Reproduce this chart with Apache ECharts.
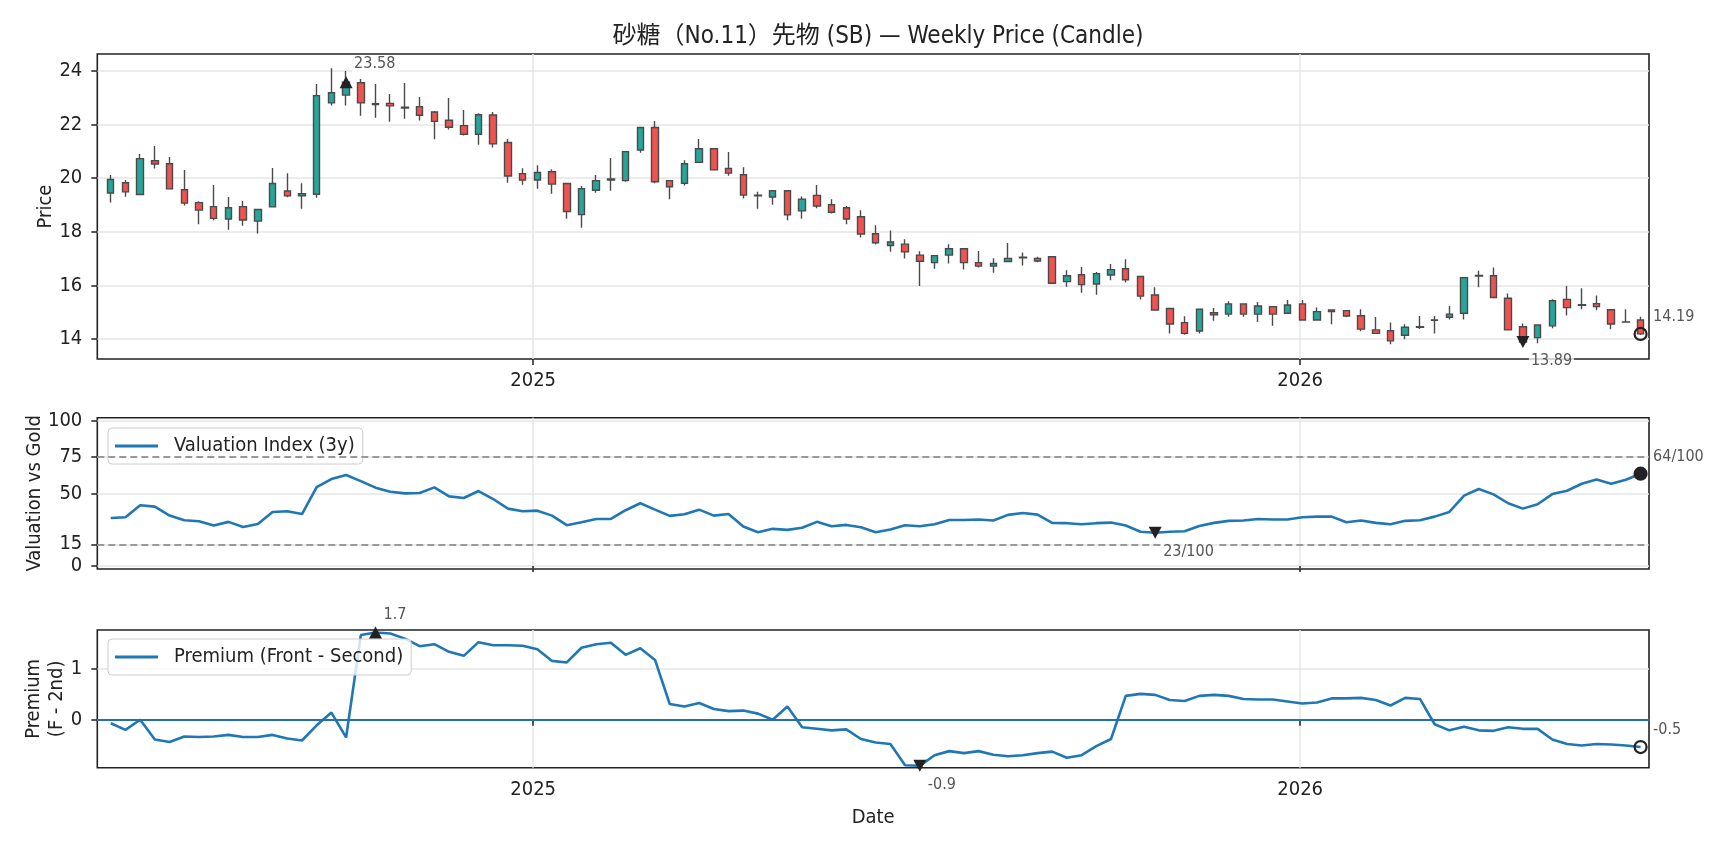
<!DOCTYPE html>
<html>
<head>
<meta charset="utf-8">
<script src="https://cdn.jsdelivr.net/npm/echarts@6/dist/echarts.min.js"></script>
<style>
  html, body { margin: 0; padding: 0; background: #fff; }
  #chart { width: 1728px; height: 849px; }
</style>
</head>
<body>
<div id="chart"></div>
<script>
// weekly candles, first bar on 2024-06-14
const firstWeek = '2024-06-14';
const opens = [19.45,19.83,19.39,20.65,20.54,19.57,19.09,18.94,18.48,18.94,18.40,18.93,19.52,19.34,19.40,22.81,23.10,23.56,22.78,22.79,
  22.65,22.67,22.47,22.16,21.96,21.64,22.36,21.33,20.17,19.93,20.24,19.80,18.64,19.55,19.93,19.91,21.05,21.89,19.91,19.81,
  20.59,21.10,20.36,20.13,19.37,19.30,19.53,18.78,19.36,19.01,18.90,18.56,17.93,17.49,17.54,17.13,16.85,17.13,17.37,16.85,
  16.72,16.89,17.05,17.01,17.07,16.14,16.40,16.05,16.39,16.62,16.33,15.64,15.14,14.61,14.30,14.98,14.93,15.31,14.93,15.21,
  14.96,15.31,14.71,15.08,15.06,14.87,14.34,14.31,14.14,14.44,14.70,14.81,14.96,16.35,16.36,15.52,14.46,14.05,14.49,15.48,
  15.28,15.32,15.09,14.64,14.71];
const closes = [19.95,19.49,20.73,20.53,19.60,19.07,18.81,18.50,18.90,18.44,18.83,19.80,19.34,19.42,23.08,23.19,23.58,22.81,22.75,22.70,
  22.62,22.35,22.12,21.90,21.64,22.37,21.28,20.08,19.93,20.21,19.78,18.76,19.61,19.91,19.97,20.99,21.89,19.87,19.68,20.54,
  21.10,20.31,20.19,19.37,19.34,19.53,18.63,19.22,18.96,18.73,18.48,17.92,17.59,17.62,17.25,16.90,17.11,17.37,16.85,16.72,
  16.82,17.01,17.03,16.91,16.08,16.36,16.03,16.44,16.59,16.21,15.60,15.08,14.56,14.21,15.11,14.90,15.31,14.93,15.23,14.93,
  15.27,14.71,15.02,15.02,14.86,14.37,14.21,13.93,14.44,14.46,14.71,14.93,16.29,16.37,15.55,14.34,13.89,14.52,15.43,15.17,
  15.26,15.21,14.56,14.63,14.19];
const lows = [19.09,19.31,19.36,20.36,19.58,18.98,18.28,18.43,18.08,18.23,17.94,18.91,19.29,18.86,19.27,22.71,22.71,22.33,22.26,22.11,
  22.22,22.15,21.45,21.82,21.59,21.25,21.15,19.83,19.76,19.61,19.42,18.49,18.15,19.46,19.53,19.87,20.95,19.81,19.21,19.73,
  20.57,20.30,20.09,19.24,18.86,19.01,18.43,18.49,18.88,18.68,18.28,17.79,17.53,17.26,17.00,15.98,16.62,16.82,16.59,16.67,
  16.47,16.88,16.74,16.86,16.07,15.95,15.73,15.65,16.19,16.11,15.47,15.07,14.21,14.16,14.21,14.68,14.83,14.83,14.63,14.49,
  14.95,14.70,14.70,14.55,14.81,14.29,14.20,13.80,13.99,14.37,14.21,14.73,14.73,15.93,15.52,14.33,13.88,13.84,14.40,14.88,
  15.11,15.07,14.36,14.61,14.15];
const highs = [20.12,19.93,20.90,21.20,20.79,20.31,19.14,19.75,19.30,19.15,18.84,20.38,20.18,19.81,23.51,24.10,24.00,23.70,23.51,23.14,
  23.55,23.03,22.51,22.99,22.54,22.42,22.47,21.46,20.37,20.48,20.33,19.81,19.71,20.12,20.75,21.00,21.90,22.13,19.92,20.67,
  21.46,21.11,20.98,20.41,19.49,19.54,19.54,19.32,19.75,19.21,18.96,18.80,18.24,18.05,17.72,17.27,17.12,17.54,17.38,17.28,
  17.01,17.58,17.23,17.07,17.08,16.57,16.69,16.50,16.80,16.98,16.34,15.93,15.15,14.85,15.13,15.16,15.41,15.32,15.38,15.22,
  15.46,15.46,15.18,15.09,15.07,15.11,14.82,14.62,14.55,14.86,14.86,15.23,16.30,16.55,16.67,15.70,14.58,14.53,15.48,15.98,
  15.89,15.62,15.10,15.11,14.83];
const valuation = [33.1,33.6,41.8,40.9,34.7,31.5,30.8,27.9,30.4,26.9,29.0,37.2,37.7,35.8,54.3,59.8,62.6,58.4,53.9,51.1,
  50.0,50.2,54.1,47.9,46.8,51.6,46.1,39.5,37.7,38.1,34.7,28.1,30.1,32.4,32.4,38.4,43.2,38.8,34.5,35.6,
  38.8,34.7,35.8,27.2,23.3,25.6,24.9,26.3,30.4,27.4,28.3,26.7,23.3,25.1,28.1,27.4,28.8,31.7,31.7,32.0,
  31.3,35.2,36.5,35.4,29.7,29.5,28.8,29.5,29.9,27.9,23.6,22.9,23.6,24.0,27.6,29.7,31.1,31.3,32.4,32.0,
  32.0,33.6,34.0,34.0,30.1,31.3,29.7,28.8,31.1,31.5,34.0,37.2,48.4,53.0,49.3,43.2,39.5,42.5,49.5,51.8,
  56.6,59.6,56.6,59.4,63.5];
const premium = [-0.07,-0.20,0.00,-0.39,-0.44,-0.33,-0.34,-0.33,-0.30,-0.34,-0.34,-0.30,-0.37,-0.41,-0.11,0.14,-0.35,1.67,1.72,1.70,
  1.60,1.45,1.49,1.34,1.26,1.53,1.47,1.47,1.46,1.39,1.16,1.13,1.42,1.49,1.52,1.28,1.41,1.18,0.31,0.26,
  0.33,0.21,0.17,0.18,0.12,0.00,0.26,-0.15,-0.18,-0.21,-0.19,-0.38,-0.45,-0.48,-0.90,-0.91,-0.70,-0.62,-0.66,-0.62,
  -0.69,-0.72,-0.70,-0.66,-0.63,-0.75,-0.70,-0.52,-0.38,0.47,0.51,0.49,0.39,0.37,0.47,0.49,0.47,0.41,0.40,0.40,
  0.36,0.32,0.34,0.42,0.42,0.43,0.39,0.28,0.43,0.41,-0.09,-0.21,-0.14,-0.21,-0.22,-0.15,-0.18,-0.18,-0.39,-0.48,
  -0.51,-0.48,-0.49,-0.51,-0.54];
const yearTicks = ['2025-01-01', '2026-01-01'];
const priceTicks = [14, 16, 18, 20, 22, 24];
const valuationTicks = [0, 15, 50, 75, 100];
const valuationBands = [75, 15];
const premiumTicks = [0, 1];

const FONT = "'Liberation Sans Narrow', 'DejaVu Sans Condensed', 'Noto Sans CJK JP', sans-serif";
const DAY = 86400000;
const t0 = Date.parse(firstWeek);
const dates = opens.map((_, i) => t0 + i * 7 * DAY);
const yearTs = yearTicks.map(d => Date.parse(d));
const last = dates.length - 1;
const xMin = dates[0] - 6.4 * DAY;
const xMax = dates[last] + 4.0 * DAY;

const argMax = a => a.indexOf(Math.max(...a));
const argMin = a => a.indexOf(Math.min(...a));

const DOWN = 'path://M0,0 L10,0 L5,10 Z';

function lab(text, offset) {
  return {
    show: true, formatter: text, position: 'inside', align: 'left', verticalAlign: 'middle',
    offset: offset, color: '#555', fontSize: 16, fontFamily: FONT,
    backgroundColor: 'rgba(255,255,255,0.75)', padding: [1, 2]
  };
}
function upMark(x, y, text) {
  return { coord: [x, y], symbol: 'triangle', symbolSize: [13, 12], itemStyle: { color: '#222' }, label: lab(text, [6, -18]) };
}
function downMark(x, y, text) {
  return { coord: [x, y], symbol: DOWN, symbolSize: [13, 12], itemStyle: { color: '#222' }, label: lab(text, [6, 19]) };
}
function lastMark(x, y, text, filled) {
  return {
    coord: [x, y], symbol: 'circle', symbolSize: 12,
    itemStyle: { color: filled ? '#222' : 'rgba(0,0,0,0)', borderColor: '#222', borderWidth: 2.2 },
    label: lab(text, [10.5, -17])
  };
}

function xAxis(gi, showLabels, name) {
  return {
    type: 'value', gridIndex: gi, min: xMin, max: xMax,
    axisLine: { show: false },
    axisTick: { show: true, customValues: yearTs, length: 6, lineStyle: { color: '#222', width: 1.5 } },
    axisLabel: {
      show: showLabels, customValues: yearTs, margin: 12, fontSize: 20, fontFamily: FONT, color: '#222',
      formatter: v => String(new Date(v).getUTCFullYear())
    },
    splitLine: { show: true, lineStyle: { color: '#e6e6e6', width: 1.5 } },
    name: name || '', nameLocation: 'middle', nameGap: 40, nameMoveOverlap: false,
    nameTextStyle: { fontSize: 20, fontFamily: FONT, color: '#222' }
  };
}
function yAxis(gi, min, max, ticks, name, gap) {
  return {
    type: 'value', gridIndex: gi, min: min, max: max,
    axisLine: { show: false },
    axisTick: { show: true, customValues: ticks, length: 6, lineStyle: { color: '#222', width: 1.5 } },
    axisLabel: { customValues: ticks, margin: 15, fontSize: 20, fontFamily: FONT, color: '#222' },
    splitLine: { show: true, lineStyle: { color: '#e6e6e6', width: 1.5 } },
    name: name, nameLocation: 'middle', nameGap: gap, nameMoveOverlap: false,
    nameTextStyle: { fontSize: 20, fontFamily: FONT, color: '#222', lineHeight: 23 }
  };
}
function legend(label, top) {
  return {
    data: [label], left: 108, top: top, icon: 'rect', itemWidth: 43, itemHeight: 3,
    padding: [8, 8, 8, 7], backgroundColor: 'rgba(255,255,255,0.8)',
    borderColor: '#cccccc', borderWidth: 1, borderRadius: 4,
    textStyle: { fontSize: 20, fontFamily: FONT, color: '#222', padding: [0, 0, 0, 11] }
  };
}

const gridBase = { left: 97.3, right: 79, show: true, borderColor: '#222', borderWidth: 1.6, backgroundColor: 'rgba(0,0,0,0)' };

const iCmax = argMax(closes), iCmin = argMin(closes);
const iVmin = argMin(valuation);
const iPmax = argMax(premium), iPmin = argMin(premium);

const chart = echarts.init(document.getElementById('chart'));
chart.setOption({
  animation: false,
  backgroundColor: '#fff',
  title: {
    text: '砂糖（No.11）先物 (SB) — Weekly Price (Candle)',
    left: 873, top: 20, textAlign: 'center',
    textStyle: { fontSize: 24, fontWeight: 'normal', fontFamily: FONT, color: '#222' }
  },
  legend: [legend('Valuation Index (3y)', 428), legend('Premium (Front - Second)', 639)],
  grid: [
    Object.assign({ top: 54, height: 305 }, gridBase),
    Object.assign({ top: 417.7, height: 151.3 }, gridBase),
    Object.assign({ top: 630, height: 137.7 }, gridBase)
  ],
  xAxis: [xAxis(0, true), xAxis(1, false), xAxis(2, true, 'Date')],
  yAxis: [
    yAxis(0, 13.254, 24.634, priceTicks, 'Price', 40),
    yAxis(1, -2, 102, valuationTicks, 'Valuation vs Gold', 51),
    yAxis(2, -0.947, 1.77, premiumTicks, 'Premium\n(F - 2nd)', 29)
  ],
  series: [
    {
      name: 'Price', type: 'candlestick', xAxisIndex: 0, yAxisIndex: 0,
      data: dates.map((t, i) => [t, opens[i], closes[i], lows[i], highs[i]]),
      encode: { x: 0, y: [1, 2, 3, 4] },
      barWidth: 7,
      itemStyle: { color: '#26a69a', color0: '#ef5350', borderColor: '#4a4a4a', borderColor0: '#4a4a4a', borderWidth: 1.4 },
      markPoint: {
        silent: true, animation: false,
        data: [
          upMark(dates[iCmax], closes[iCmax], closes[iCmax].toFixed(2)),
          downMark(dates[iCmin], closes[iCmin], closes[iCmin].toFixed(2)),
          lastMark(dates[last], closes[last], closes[last].toFixed(2), false)
        ]
      }
    },
    {
      name: 'Valuation Index (3y)', type: 'line', xAxisIndex: 1, yAxisIndex: 1,
      data: dates.map((t, i) => [t, valuation[i]]),
      showSymbol: false, symbol: 'none', color: '#1f77b4',
      lineStyle: { width: 2.6, color: '#1f77b4' },
      markLine: {
        silent: true, symbol: ['none', 'none'], animation: false, label: { show: false },
        lineStyle: { type: [7, 4], color: '#999', width: 1.8 },
        data: valuationBands.map(v => ({ yAxis: v }))
      },
      markPoint: {
        silent: true, animation: false,
        data: [
          downMark(dates[iVmin], valuation[iVmin], Math.round(valuation[iVmin]) + '/100'),
          lastMark(dates[last], valuation[last], Math.round(valuation[last]) + '/100', true)
        ]
      }
    },
    {
      name: 'Premium (Front - Second)', type: 'line', xAxisIndex: 2, yAxisIndex: 2,
      data: dates.map((t, i) => [t, premium[i]]),
      showSymbol: false, symbol: 'none', color: '#1f77b4',
      lineStyle: { width: 2.6, color: '#1f77b4' },
      markLine: {
        silent: true, symbol: ['none', 'none'], animation: false, label: { show: false },
        lineStyle: { type: 'solid', color: '#2270b0', width: 2 },
        data: [{ yAxis: 0 }]
      },
      markPoint: {
        silent: true, animation: false,
        data: [
          upMark(dates[iPmax], premium[iPmax], premium[iPmax].toFixed(1)),
          downMark(dates[iPmin], premium[iPmin], premium[iPmin].toFixed(1)),
          lastMark(dates[last], premium[last], premium[last].toFixed(1), false)
        ]
      }
    }
  ]
});
</script>
</body>
</html>
